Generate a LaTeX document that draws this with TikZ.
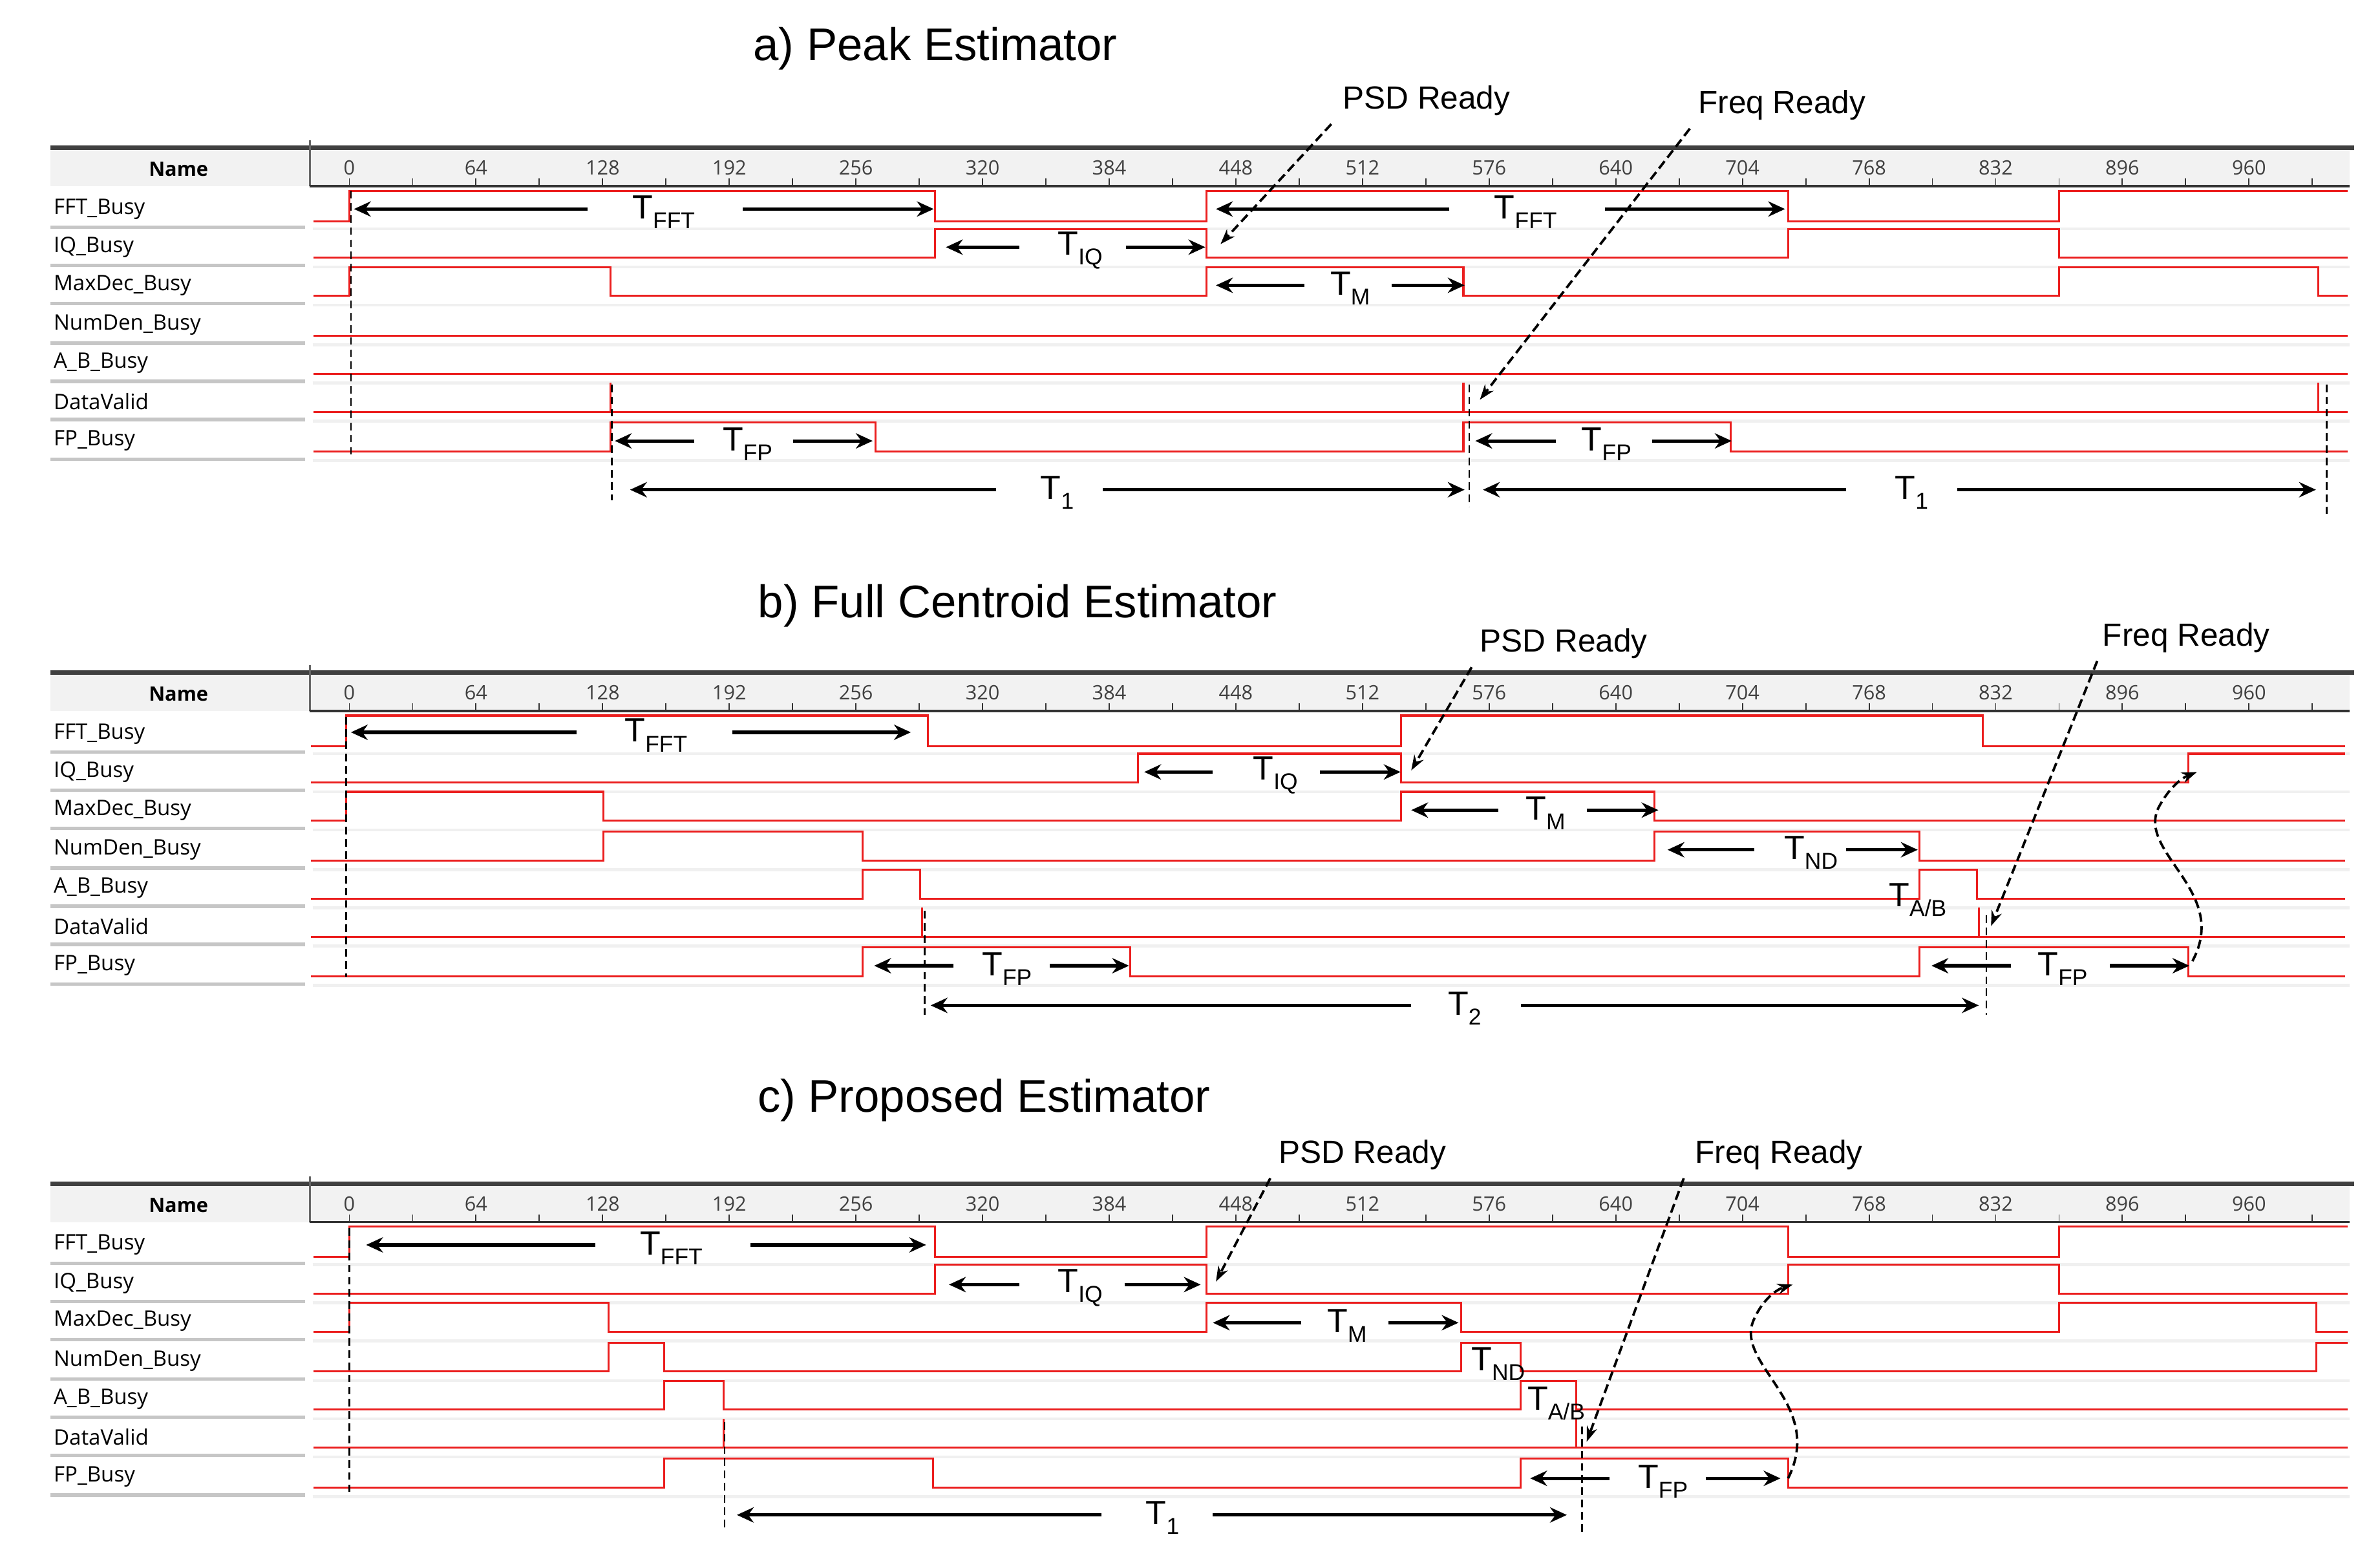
\documentclass[tikz,border=0pt]{standalone}
\usepackage{fontspec}
\setmainfont{Liberation Sans}
\newfontfamily\sigfont{Open Sans}
\usetikzlibrary{arrows.meta}
\definecolor{sigred}{RGB}{235,30,30}
\newcommand\Tl[1]{T\raisebox{-0.55ex}{\fontsize{15}{15}\selectfont #1}}
\newcommand\pframe{%
  \fill[gray!10] (33,98) rectangle (1540,122);
  \draw[line width=3pt,black!75] (33,97) -- (1543,97);
  \draw[line width=1.2pt,black!60] (203,92) -- (203,122);
  \draw[line width=1.6pt,black!80] (203,122) -- (1540,122);
  \node[font=\sigfont\bfseries\fontsize{13}{13}\selectfont] (nm) at (117,111) {Name};
  \begin{scope}[xshift=229pt,x=1.297pt]
    \foreach \t in {0,32,...,1008} \draw[black!80,line width=0.8pt] (\t,122) -- (\t,117);
    \foreach \t in {0,64,...,960} \node[font=\sigfont\fontsize{13}{13}\selectfont,black!75] at (\t,110) {\t};
  \end{scope}
  \foreach \y/\n in {137/FFT\_Busy,162/IQ\_Busy,187/MaxDec\_Busy,213/NumDen\_Busy,238/A\_B\_Busy,263/DataValid,289/FP\_Busy}{
    \node[anchor=west,font=\sigfont\fontsize{14}{14}\selectfont,inner sep=0] at (35,\y) {\n};
    \draw[gray!45,line width=2.2pt] (33,\y+12) -- (200,\y+12);
    \draw[gray!12,line width=2pt] (205,\y+13) -- (1540,\y+13);
  }
}
\tikzset{
  sig/.style={sigred,line width=1.3pt},
  arr/.style={black,line width=2.2pt,-{Stealth[length=11pt,width=10pt]}},
  dsh/.style={black,line width=1.1pt,dash pattern=on 5pt off 3pt},
  dar/.style={black,line width=1.6pt,dash pattern=on 6pt off 3pt,-{Stealth[length=10pt,width=7pt]}},
  tl/.style={font=\fontsize{22}{22}\selectfont,inner sep=1pt},
  rdy/.style={font=\fontsize{21}{21}\selectfont},
  ttl/.style={font=\fontsize{30}{30}\selectfont}
}
\begin{document}
\begin{tikzpicture}[x=1pt,y=-1pt]
\useasboundingbox[fill=white] (0,0) rectangle (1560,1023);
% ================= panel a
\begin{scope}
\pframe
\node[ttl] (ta) at (613,32) {a) Peak Estimator};
\begin{scope}[xshift=229pt,x=1.297pt]
\draw[sig] (-18,145) -| (0,125) -| (296,145) -| (433,125) -| (727,145) -| (864,125) -- (1010,125);
\draw[sig] (-18,169) -| (296,150) -| (433,169) -| (727,150) -| (864,169) -- (1010,169);
\draw[sig] (-18,194) -| (0,175) -| (132,194) -| (433,175) -| (563,194) -| (864,175) -| (995,194) -- (1010,194);
\draw[sig] (-18,220) -- (1010,220);
\draw[sig] (-18,245) -- (1010,245);
\draw[sig] (-18,270) -- (1010,270);
\foreach \t in {132,563,995} \draw[sig] (\t,270) -- (\t,251);
\draw[sig] (-18,296) -| (132,277) -| (266,296) -| (563,277) -| (698,296) -- (1010,296);
\end{scope}
\draw[dsh] (230,125) -- (230,298);
\draw[dsh] (401,252) -- (401,328);
\draw[dsh] (963,252) -- (963,332);
\draw[dsh] (1525,252) -- (1525,338);
\node[tl] (a1) at (435,139) {\Tl{FFT}};
\draw[arr] (385,137) -- (232,137); \draw[arr] (487,137) -- (612,137);
\node[tl] (a2) at (1000,139) {\Tl{FFT}};
\draw[arr] (950,137) -- (797,137); \draw[arr] (1052,137) -- (1170,137);
\node[tl] (a3) at (708,164) {\Tl{IQ}};
\draw[arr] (668,162) -- (620,162); \draw[arr] (738,162) -- (790,162);
\node[tl] (a4) at (885,189) {\Tl{M}};
\draw[arr] (855,187) -- (797,187); \draw[arr] (912,187) -- (960,187);
\node[tl] (a5) at (490,291) {\Tl{FP}};
\draw[arr] (455,289) -- (403,289); \draw[arr] (520,289) -- (572,289);
\node[tl] (a6) at (1053,291) {\Tl{FP}};
\draw[arr] (1020,289) -- (967,289); \draw[arr] (1083,289) -- (1135,289);
\node[tl] (a7) at (693,323) {\Tl{1}};
\draw[arr] (653,321) -- (413,321); \draw[arr] (723,321) -- (960,321);
\node[tl] (a8) at (1253,323) {\Tl{1}};
\draw[arr] (1210,321) -- (972,321); \draw[arr] (1283,321) -- (1518,321);
\node[rdy] (ap) at (935,66) {PSD Ready};
\coordinate (apt) at (800,160);
\draw[dar] (ap.south west) ++(-4,2) -- (apt);
\node[rdy] (af) at (1168,69) {Freq Ready};
\coordinate (aft) at (970,262);
\draw[dar] (af.south west) ++(-2,2) -- (aft);
\end{scope}
% ================= panel b
\begin{scope}[yshift=-344pt]
\pframe
\node[ttl] (tb) at (667,53) {b) Full Centroid Estimator};
\begin{scope}[xshift=227pt,x=1.297pt]
\draw[sig] (-18,145) -| (0,125) -| (294,145) -| (533,125) -| (827,145) -- (1010,145);
\draw[sig] (-18,169) -| (400,150) -| (533,169) -| (931,150) -- (1010,150);
\draw[sig] (-18,194) -| (0,175) -| (130,194) -| (533,175) -| (661,194) -- (1010,194);
\draw[sig] (-18,220) -| (130,201) -| (261,220) -| (661,201) -| (795,220) -- (1010,220);
\draw[sig] (-18,245) -| (261,226) -| (290,245) -| (795,226) -| (824,245) -- (1010,245);
\draw[sig] (-18,270) -- (1010,270);
\foreach \t in {291,825} \draw[sig] (\t,270) -- (\t,251);
\draw[sig] (-18,296) -| (261,277) -| (396,296) -| (795,277) -| (931,296) -- (1010,296);
\end{scope}
\draw[dsh] (227,126) -- (227,296);
\draw[dsh] (606,253) -- (606,321);
\draw[dsh] (1302,256) -- (1302,321);
\node[tl] (b1) at (430,138) {\Tl{FFT}};
\draw[arr] (378,136) -- (230,136); \draw[arr] (480,136) -- (597,136);
\node[tl] (b2) at (836,164) {\Tl{IQ}};
\draw[arr] (795,162) -- (750,162); \draw[arr] (865,162) -- (918,162);
\node[tl] (b3) at (1013,189) {\Tl{M}};
\draw[arr] (982,187) -- (925,187); \draw[arr] (1040,187) -- (1087,187);
\node[tl] (b4) at (1187,215) {\Tl{ND}};
\draw[arr] (1150,213) -- (1093,213); \draw[arr] (1210,213) -- (1257,213);
\node[tl] (b5) at (1257,246) {\Tl{A/B}};
\node[tl] (b6) at (660,291) {\Tl{FP}};
\draw[arr] (625,289) -- (573,289); \draw[arr] (688,289) -- (740,289);
\node[tl] (b7) at (1352,291) {\Tl{FP}};
\draw[arr] (1318,289) -- (1266,289); \draw[arr] (1383,289) -- (1435,289);
\node[tl] (b8) at (960,317) {\Tl{2}};
\draw[arr] (925,315) -- (610,315); \draw[arr] (997,315) -- (1297,315);
\node[rdy] (bp) at (1025,78) {PSD Ready};
\coordinate (bpt) at (925,161);
\draw[dar] (bp.south west) ++(-2,2) -- (bpt);
\node[rdy] (bf) at (1433,74) {Freq Ready};
\coordinate (bft) at (1305,263);
\draw[dar] (bf.south west) ++(0,2) -- (bft);
\coordinate (bw0) at (1437,286);
\coordinate (bw1) at (1440,162);
\draw[dar] (bw0) .. controls (1462,240) and (1400,215) .. (1415,185) .. controls (1422,172) and (1430,166) .. (bw1);
\end{scope}
% ================= panel c
\begin{scope}[yshift=-679pt]
\pframe
\node[ttl] (tc) at (645,42) {c) Proposed Estimator};
\begin{scope}[xshift=229pt,x=1.297pt]
\draw[sig] (-18,145) -| (0,125) -| (296,145) -| (433,125) -| (727,145) -| (864,125) -- (1010,125);
\draw[sig] (-18,169) -| (296,150) -| (433,169) -| (727,150) -| (864,169) -- (1010,169);
\draw[sig] (-18,194) -| (0,175) -| (131,194) -| (433,175) -| (562,194) -| (864,175) -| (994,194) -- (1010,194);
\draw[sig] (-18,220) -| (131,201) -| (159,220) -| (562,201) -| (592,220) -| (994,201) -- (1010,201);
\draw[sig] (-18,245) -| (159,226) -| (189,245) -| (592,226) -| (620,245) -- (1010,245);
\draw[sig] (-18,270) -- (1010,270);
\foreach \t in {189,620} \draw[sig] (\t,270) -- (\t,251);
\draw[sig] (-18,296) -| (159,277) -| (295,296) -| (592,277) -| (727,296) -- (1010,296);
\end{scope}
\draw[dsh] (229,126) -- (229,299);
\draw[dsh] (475,253) -- (475,323);
\draw[dsh] (1037,256) -- (1037,326);
\node[tl] (c1) at (440,139) {\Tl{FFT}};
\draw[arr] (390,137) -- (240,137); \draw[arr] (492,137) -- (607,137);
\node[tl] (c2) at (708,165) {\Tl{IQ}};
\draw[arr] (668,163) -- (622,163); \draw[arr] (737,163) -- (787,163);
\node[tl] (c3) at (883,190) {\Tl{M}};
\draw[arr] (853,188) -- (795,188); \draw[arr] (910,188) -- (956,188);
\node[tl] (c4) at (982,215) {\Tl{ND}};
\node[tl] (c5) at (1020,241) {\Tl{A/B}};
\node[tl] (c6) at (1090,292) {\Tl{FP}};
\draw[arr] (1055,290) -- (1003,290); \draw[arr] (1118,290) -- (1167,290);
\node[tl] (c7) at (762,316) {\Tl{1}};
\draw[arr] (722,314) -- (483,314); \draw[arr] (795,314) -- (1027,314);
\node[rdy] (cp) at (893,78) {PSD Ready};
\coordinate (cpt) at (797,161);
\draw[dar] (cp.south west) ++(-2,2) -- (cpt);
\node[rdy] (cf) at (1166,78) {Freq Ready};
\coordinate (cft) at (1040,266);
\draw[dar] (cf.south west) ++(-4,2) -- (cft);
\coordinate (cw0) at (1172,290);
\coordinate (cw1) at (1175,163);
\draw[dar] (cw0) .. controls (1197,240) and (1135,215) .. (1150,185) .. controls (1156,172) and (1165,166) .. (cw1);
\end{scope}
\end{tikzpicture}
\end{document}
